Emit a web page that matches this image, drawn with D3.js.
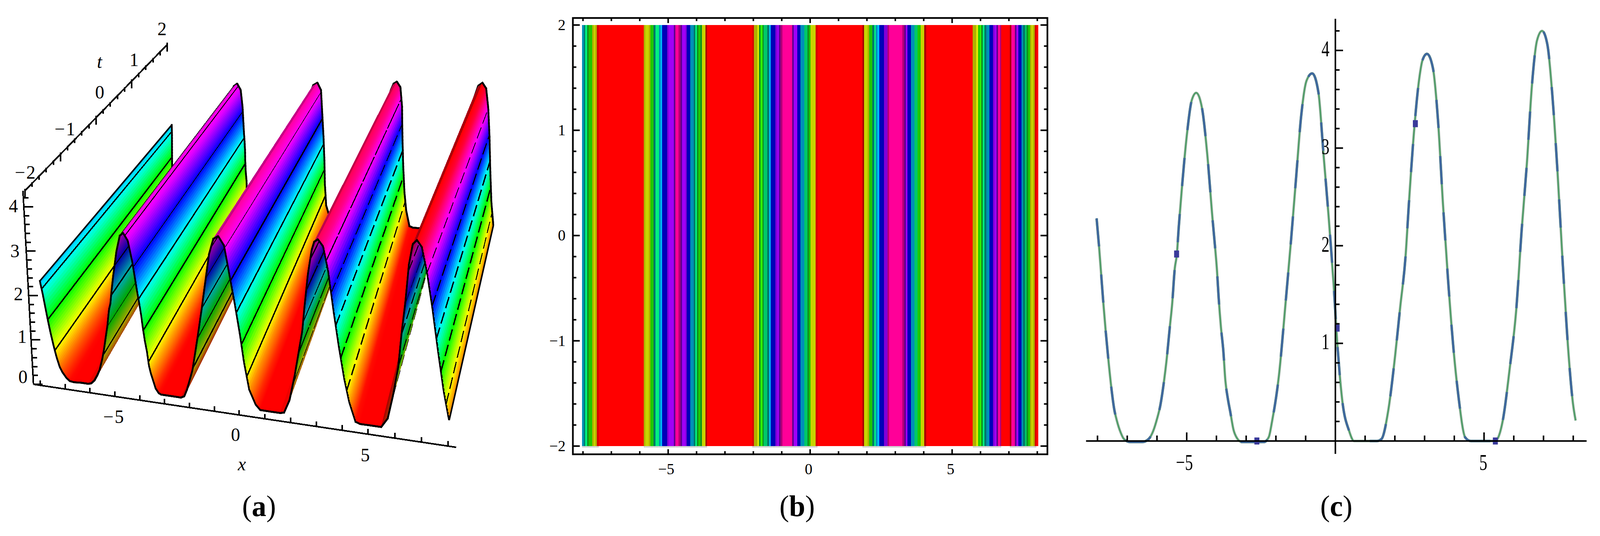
<!DOCTYPE html>
<html>
<head>
<meta charset="utf-8">
<script src="https://cdn.jsdelivr.net/npm/d3@7"></script>
<style>
  html, body { margin: 0; padding: 0; background: #fff; overflow: hidden; }
  svg { display: block; width: 100vw; height: 100vh; }
  text { font-family: "Liberation Serif", serif; fill: #000; }
</style>
</head>
<body>
<svg id="fig" viewBox="0 0 4181 1371" preserveAspectRatio="none"></svg>
<script>
// curve: u against x
const curveX = [-8.03,-7.95,-7.87,-7.80,-7.72,-7.63,-7.54,-7.44,-7.35,-7.22,-7.11,-6.9,-6.49,-6.28,-6.13,-6.0,-5.89,-5.76,-5.68,-5.57,-5.49,-5.40,-5.33,-5.27,-5.17,-5,-4.83,-4.68,-4.48,-4.31,-4.13,-4.05,-3.98,-3.93,-3.85,-3.77,-3.70,-3.62,-3.53,-3.43,-3.30,-3.15,-2.40,-2.24,-2.13,-1.9,-1.67,-1.49,-1.32,-1.15,-0.97,-0.78,-0.57,-0.4,-0.23,-0.06,0.06,0.23,0.46,0.63,0.75,1.4,1.55,1.78,2.01,2.18,2.36,2.47,2.64,2.82,2.93,3.08,3.28,3.45,3.62,3.79,3.97,4.14,4.37,4.55,5.37,5.63,5.86,6.09,6.26,6.44,6.61,6.78,6.95,7.13,7.3,7.47,7.64,7.82,7.99,8.08];
const curveU = [2.28,2.0,1.68,1.40,1.11,0.82,0.56,0.33,0.21,0.086,0.02,-0.01,-0.01,0.02,0.10,0.225,0.36,0.62,0.82,1.16,1.40,1.77,1.914,2.18,2.56,3.12,3.49,3.566,3.4,2.94,2.27,2.0,1.74,1.49,1.17,0.93,0.62,0.44,0.29,0.12,0.025,-0.01,-0.01,0.04,0.2,0.665,1.43,2.06,2.7,3.33,3.69,3.765,3.57,2.94,2.31,1.61,1.02,0.42,0.105,0,0,0,0.02,0.315,0.875,1.37,1.89,2.42,3.15,3.71,3.9,3.965,3.82,3.29,2.42,1.65,0.95,0.455,0.035,0,0,0.21,0.735,1.37,2.14,2.84,3.64,4.1,4.2,4.06,3.53,2.76,1.85,0.98,0.385,0.21];
const markerX = [-5.34,-2.64,0.06,2.69,5.38];
const markerU = [1.915,0,1.156,3.25,0];

// panel (b) vertical bands: edges in x and the colour class of each band
const stripeEdges = [-8.03,-7.97,-7.92,-7.86,-7.80,-7.68,-7.62,-7.56,-7.51,-7.44,-5.86,-5.80,-5.68,-5.62,-5.51,-5.45,-5.33,-5.27,-5.21,-5.04,-4.98,-4.80,-4.74,-4.63,-4.57,-4.51,-4.39,-4.34,-4.22,-4.10,-4.04,-3.99,-3.93,-3.87,-3.81,-3.69,-3.63,-2.04,-1.98,-1.92,-1.86,-1.80,-1.74,-1.68,-1.63,-1.51,-1.45,-1.39,-1.33,-1.22,-1.16,-1.10,-1.04,-0.98,-0.63,-0.58,-0.46,-0.34,-0.21,-0.16,-0.10,-0.04,0.01,0.20,0.26,1.84,1.90,2.02,2.08,2.13,2.19,2.25,2.31,2.37,2.43,2.60,2.72,2.78,3.25,3.31,3.37,3.43,3.55,3.67,3.79,3.90,4.02,4.08,5.73,5.85,5.91,5.97,6.02,6.08,6.14,6.21,6.32,6.44,6.50,6.56,6.62,6.68,6.73,7.03,7.09,7.21,7.27,7.33,7.44,7.50,7.56,7.62,7.68,7.74,7.79,7.85,7.91,7.97,8.03];
const stripeBands = ["t","T","S","D","G","O","Y","O","r","R","O","Y","O","G","T","S","t","C","N","P","V","W","H","M","W","V","P","N","t","T","S","D","G","D","Y","k","R","r","O","O","L","D","B","D","s","T","C","N","N","P","V","W","M","H","W","V","N","t","s","s","D","G","Y","r","R","k","Y","O","G","G","T","S","t","C","N","P","M","H","M","W","V","N","t","s","G","Y","k","R","O","L","G","B","D","S","T","t","N","P","V","W","H","M","R","k","H","W","V","N","t","T","s","D","G","O","Y","O","r","R"];
const bandNames = ["R","r","k","O","Y","L","G","B","D","S","s","T","C","t","N","P","V","W","M","H"];
const bandColors = ["#ff0000","#d80000","#a80000","#b0b000","#c8d400","#e0e800","#20c800","#30f000","#109020","#00f080","#00c868","#007868","#00b8f8","#0090b8","#0000b8","#8000d8","#a000f8","#600090","#b00078","#ff0098"];

// tick labels
const xTicksAll = d3.range(-8, 9);
const xLabelled = [-5, 0, 5];
const contourLevels = [0.7, 1.4, 2.1, 2.8, 3.5];
const captions = ["a", "b", "c"];

const svg = d3.select("#fig");
const uRaw = d3.scaleLinear().domain(curveX).range(curveU).clamp(true);
const uAt = x => Math.max(0, uRaw(x));
const minus = v => String(v).replace("-", "\u2212");
const lerp = (a, b, f) => a + (b - a) * f;

// ---------- panel (a): surface, painted strip by strip from small x to large x ----------
const pa = svg.append("g");
const stops = [-8, -6.72, -2.64, 1.03, 4.94, 8];
const frontX = d3.scaleLinear().domain(stops).range([114, 212.5, 454, 708, 967, 1175]);
const frontY = d3.scaleLinear().domain(stops).range([972, 979, 1014, 1053, 1088, 1118]);
const backX = d3.scaleLinear().domain(stops).range([429, 478, 696, 891, 1100, 1286]);
const backY = d3.scaleLinear().domain(stops).range([531, 536, 553, 568, 584, 610]);
const frontRise = d3.scaleLinear().domain([-8, 8]).range([111, 118]);
const hue = d3.scaleLinear().domain([0, 4.2]).range([0, 360]);

function project(x, t, z) {
  const f = (t + 2) / 4;
  const px = lerp(frontX(x) - 3.3 * z, backX(x) + 9.2 * z, f);
  const py = lerp(frontY(x) - frontRise(x) * z, backY(x) - 92.7 * z, f);
  return [px, py];
}
const line2 = d3.line();

const sx = d3.range(-8.03, 8.0001, 0.02);
const strips = d3.pairs(sx).map(([x0, x1]) => {
  const z0 = uAt(x0), z1 = uAt(x1);
  const slope = (z1 - z0) / (x1 - x0);
  // the side turned away from the viewer is shaded darker
  const shade = slope > 0 ? 1 - 0.34 * Math.min(1, slope / 0.6) : 1;
  const c = d3.hsl(hue((z0 + z1) / 2), 1, 0.5 * shade);
  return { x0, x1, z0, z1, color: c.formatHex() };
});

const stripG = pa.selectAll("g.strip").data(strips).join("g").attr("class", "strip");
stripG.append("path")
  .attr("d", d => line2([project(d.x0, -2, d.z0), project(d.x1, -2, d.z1), project(d.x1, 2, d.z1), project(d.x0, 2, d.z0)]) + "Z")
  .attr("fill", d => d.color)
  .attr("stroke", d => d.color)
  .attr("stroke-width", 1.2)
  .attr("shape-rendering", "crispEdges");
// contour lines that fall in this strip
stripG.each(function (d) {
  const g = d3.select(this);
  contourLevels.forEach(lv => {
    if ((d.z0 - lv) * (d.z1 - lv) <= 0 && d.z0 !== d.z1) {
      const xc = lerp(d.x0, d.x1, (lv - d.z0) / (d.z1 - d.z0));
      g.append("path")
        .attr("d", line2([project(xc, -2, lv), project(xc, 2, lv)]))
        .attr("fill", "none").attr("stroke", "#000").attr("stroke-width", 3.6)
        .attr("stroke-dasharray", xc > 3.4 ? "30 11" : (xc > 0.3 ? "70 5" : null))
        .attr("shape-rendering", "crispEdges");
    }
  });
  // black rim along both ends of the sheet
  [-2, 2].forEach(t => {
    g.append("path")
      .attr("d", line2([project(d.x0, t, d.z0), project(d.x1, t, d.z1)]))
      .attr("fill", "none").attr("stroke", "#000").attr("stroke-width", 4.5)
      .attr("stroke-linecap", "square");
  });
});
// sides of the sheet
[-8.03, 8].forEach(x => {
  pa.append("path")
    .attr("d", line2([project(x, -2, uAt(x)), project(x, 2, uAt(x))]))
    .attr("fill", "none").attr("stroke", "#000").attr("stroke-width", 4);
});

// axes of panel (a)
const axisA = { stroke: "#000", width: 4 };
function seg(g, a, b, w) {
  g.append("line").attr("x1", a[0]).attr("y1", a[1]).attr("x2", b[0]).attr("y2", b[1])
    .attr("stroke", axisA.stroke).attr("stroke-width", w || axisA.width)
    .attr("shape-rendering", "crispEdges");
}
const axXs = d3.scaleLinear().domain([-8.27, -5, 0, 5, 8]).range([87.5, 300, 625, 962, 1171]);
const axXy = d3.scaleLinear().domain([-8.27, -5, 0, 5, 8]).range([983, 1014, 1062, 1110, 1141]);
seg(pa, [axXs(-8.27), axXy(-8.27)], [axXs(8.3), axXy(8.3) ]);
xTicksAll.forEach(v => seg(pa, [axXs(v), axXy(v)], [axXs(v), axXy(v) - 13]));

const axTx = d3.scaleLinear().domain([-2, 2]).range([65, 437]);
const axTy = d3.scaleLinear().domain([-2, 2]).range([488, 114]);
seg(pa, [axTx(-2), axTy(-2)], [axTx(2), axTy(2)]);
d3.range(-2, 2.001, 0.2).forEach(v => {
  const major = Math.abs(v - Math.round(v)) < 1e-6;
  seg(pa, [axTx(v), axTy(v) - (major ? 5 : 3)], [axTx(v), axTy(v) + (major ? 18 : 9)]);
});

const axZx = d3.scaleLinear().domain([0, 4.36]).range([87.5, 60]);
const axZy = d3.scaleLinear().domain([0, 4.36]).range([983, 488]);
seg(pa, [axZx(0), axZy(0)], [axZx(4.36), axZy(4.36)]);
d3.range(0, 4.21, 0.2).forEach(v => {
  const major = Math.abs(v - Math.round(v)) < 1e-6;
  seg(pa, [axZx(v), axZy(v)], [axZx(v) + (major ? 24 : 13), axZy(v)]);
});

const labelsA = pa.append("g").attr("font-size", 48).attr("text-anchor", "middle");
const xLabelPos = [[298, 1082], [617, 1128], [956, 1180]];
xLabelled.forEach((v, i) => labelsA.append("text").attr("x", xLabelPos[i][0]).attr("y", xLabelPos[i][1]).attr("letter-spacing", 3).text(minus(v)));
const tLabelPos = [[67, 457], [171, 346], [262, 252], [352, 169], [425, 90]];
[-2, -1, 0, 1, 2].forEach((v, i) => labelsA.append("text").attr("x", tLabelPos[i][0]).attr("y", tLabelPos[i][1]).attr("letter-spacing", 3).text(minus(v)));
const zLabelPos = [[60, 980], [58, 877], [48, 768], [39, 658], [35, 543]];
[0, 1, 2, 3, 4].forEach((v, i) => labelsA.append("text").attr("x", zLabelPos[i][0]).attr("y", zLabelPos[i][1]).text(v));
labelsA.append("text").attr("x", 632).attr("y", 1203).attr("font-style", "italic").text("x");
labelsA.append("text").attr("x", 260).attr("y", 174).attr("font-style", "italic").text("t");

// ---------- panel (b): density bands ----------
const pb = svg.append("g");
const xb = d3.scaleLinear().domain([-8, 8]).range([1523.4, 2710.6]);
const yb = d3.scaleLinear().domain([-2, 2]).range([1141, 64]);
const bandColor = d3.scaleOrdinal().domain(bandNames).range(bandColors);

// faint grey fringe under the coloured bands
pb.selectAll("rect.fringe")
  .data(stripeBands.map((b, i) => ({ b, x0: stripeEdges[i], x1: stripeEdges[i + 1] })).filter(d => d.b !== "R"))
  .join("rect").attr("class", "fringe")
  .attr("x", d => xb(d.x0)).attr("width", d => xb(d.x1) - xb(d.x0))
  .attr("y", yb(-2)).attr("height", 4).attr("fill", "#d4d4d4");

pb.selectAll("rect.band")
  .data(stripeBands.map((b, i) => ({ b, x0: stripeEdges[i], x1: stripeEdges[i + 1] })))
  .join("rect").attr("class", "band")
  .attr("x", d => xb(d.x0)).attr("width", d => xb(d.x1) - xb(d.x0) + 0.4)
  .attr("y", yb(2)).attr("height", yb(-2) - yb(2))
  .attr("fill", d => bandColor(d.b))
  .attr("shape-rendering", "crispEdges");

const frameB = { l: 1497, r: 2737, t: 46, b: 1162 };
pb.append("rect").attr("x", frameB.l).attr("y", frameB.t)
  .attr("width", frameB.r - frameB.l).attr("height", frameB.b - frameB.t)
  .attr("fill", "none").attr("stroke", "#000").attr("stroke-width", 4.4);

const tickB = pb.append("g").attr("stroke", "#000").attr("stroke-width", 4);
xTicksAll.forEach(v => {
  const len = v % 5 === 0 ? 13 : 8;
  tickB.append("line").attr("x1", xb(v)).attr("x2", xb(v)).attr("y1", frameB.t).attr("y2", frameB.t + len);
  tickB.append("line").attr("x1", xb(v)).attr("x2", xb(v)).attr("y1", frameB.b).attr("y2", frameB.b - len);
});
d3.range(-2, 2.001, 0.2).forEach(v => {
  const major = Math.abs(v - Math.round(v)) < 1e-6;
  const len = major ? 18 : 9;
  tickB.append("line").attr("y1", yb(v)).attr("y2", yb(v)).attr("x1", frameB.l).attr("x2", frameB.l + len);
  tickB.append("line").attr("y1", yb(v)).attr("y2", yb(v)).attr("x1", frameB.r).attr("x2", frameB.r - len);
});

const labelsB = pb.append("g").attr("font-size", 40);
xLabelled.forEach(v => labelsB.append("text").attr("x", xb(v) - (v < 0 ? 5 : 4)).attr("y", 1213)
  .attr("text-anchor", "middle").text(minus(v)));
[-2, -1, 0, 1, 2].forEach(v => labelsB.append("text").attr("x", 1478).attr("y", yb(v) + 13)
  .attr("text-anchor", "end").text(minus(v)));

// ---------- panel (c): two overlaid curves ----------
const pc = svg.append("g");
const xc = d3.scaleLinear().domain([-5, 5]).range([3101, 3878]);
const yc = d3.scaleLinear().domain([0, 4]).range([1128, 129]);

const curvePts = curveX.map((x, i) => [xc(x), yc(curveU[i])]);
const curveLine = d3.line().curve(d3.curveMonotoneX);
const curveD = curveLine(curvePts);
// green curve underneath, blue one on top with long gaps
pc.append("path").attr("d", curveD).attr("fill", "none").attr("stroke", "#83a38c").attr("stroke-width", 6.5).attr("stroke-opacity", 0.85);
pc.append("path").attr("d", curveD).attr("fill", "none").attr("stroke", "#3f9a5c").attr("stroke-width", 2.6);
pc.append("path").attr("d", curveD).attr("fill", "none").attr("stroke", "#4f7a8f").attr("stroke-width", 6.5).attr("stroke-dasharray", "72 72");
pc.append("path").attr("d", curveD).attr("fill", "none").attr("stroke", "#3b62a5").attr("stroke-width", 3).attr("stroke-dasharray", "72 72");
pc.selectAll("rect.mark")
  .data(markerX.map((x, i) => [x, markerU[i]]))
  .join("rect").attr("class", "mark")
  .attr("x", d => xc(d[0]) - 6.5).attr("y", d => yc(d[1]) - 9)
  .attr("width", 13).attr("height", 18).attr("fill", "#3a3a9a");

const axisC = pc.append("g").attr("stroke", "#000").attr("stroke-width", 4);
axisC.append("line").attr("x1", 2838).attr("x2", 4146).attr("y1", yc(0)).attr("y2", yc(0));
axisC.append("line").attr("x1", xc(0)).attr("x2", xc(0)).attr("y1", 48).attr("y2", 1161);
xTicksAll.filter(v => v !== 0).forEach(v => {
  axisC.append("line").attr("x1", xc(v)).attr("x2", xc(v)).attr("y1", yc(0)).attr("y2", yc(0) - (v % 5 === 0 ? 22 : 14));
});
d3.range(0.2, 4.21, 0.2).forEach(v => {
  const major = Math.abs(v - Math.round(v)) < 1e-6;
  axisC.append("line").attr("y1", yc(v)).attr("y2", yc(v)).attr("x1", xc(0)).attr("x2", xc(0) + (major ? 20 : 11));
});
const labelText = (x, y, s, anchor) => pc.append("text")
  .attr("transform", `translate(${x},${y}) scale(0.72,1)`)
  .attr("font-size", 58).attr("text-anchor", anchor).text(s);
labelText(3095, 1202, "\u22125", "middle");
labelText(3876, 1202, "5", "middle");
[1, 2, 3, 4].forEach(v => labelText(3474, yc(v) + 15, v, "end"));

// ---------- captions ----------
const capG = svg.append("g").attr("font-size", 76).attr("text-anchor", "middle");
[677, 2083, 3492].forEach((x, i) => {
  const t = capG.append("text").attr("x", x).attr("y", 1320);
  t.append("tspan").text("(");
  t.append("tspan").attr("font-weight", "bold").text(captions[i]);
  t.append("tspan").text(")");
});
</script>
</body>
</html>
